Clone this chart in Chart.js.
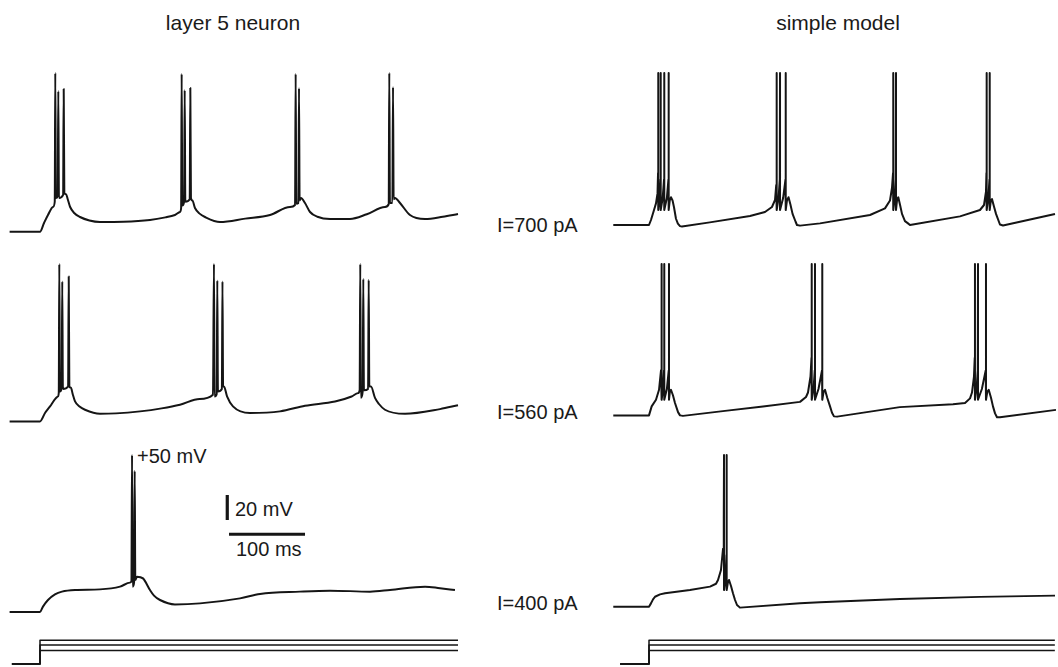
<!DOCTYPE html>
<html lang="en">
<head>
<meta charset="utf-8">
<title>layer 5 neuron / simple model</title>
<script src="https://cdn.jsdelivr.net/npm/chart.js@4"></script>
<style>
  body { margin: 0; background: #fff; font-family: "Liberation Sans", Arial, Helvetica, sans-serif; color: #1a1a1a; }
  #fig { position: relative; width: 1058px; height: 667px; overflow: hidden; }
  #fig canvas { position: absolute; }
  .lbl { position: absolute; font-size: 20px; line-height: 1; white-space: nowrap; transform: translateY(-50%); }
  .title { font-size: 21px; transform: translate(-50%, -50%); }
</style>
</head>
<body>
<div id="fig">
  <div class="lbl title" style="left:233px; top:22px;">layer 5 neuron</div>
  <div class="lbl title" style="left:838px; top:22px;">simple model</div>
  <div class="lbl" style="left:497px; top:225px;">I=700 pA</div>
  <div class="lbl" style="left:497px; top:412px;">I=560 pA</div>
  <div class="lbl" style="left:497px; top:603px;">I=400 pA</div>
  <div class="lbl" style="left:137px; top:456px;">+50 mV</div>
  <div class="lbl" style="left:235px; top:509px;">20 mV</div>
  <div class="lbl" style="left:236px; top:549px;">100 ms</div>

  <canvas id="n700"></canvas>
  <canvas id="n560"></canvas>
  <canvas id="n400"></canvas>
  <canvas id="m700"></canvas>
  <canvas id="m560"></canvas>
  <canvas id="m400"></canvas>
  <canvas id="stepL"></canvas>
  <canvas id="stepR"></canvas>
</div>

<script>
// recorded traces, [time ms, membrane potential mV], step onset at t = 0
const neuron700 = [
  [-40,-77],[0,-77],[5.3,-70],[10.5,-63.6],[17.1,-57.2],[19.4,-53],
  [20.1,50],[20.9,-50],[23.3,-48.5],[24.1,35.6],[24.9,-50],[30.4,-47.5],[31.2,37.2],[32.0,-46],
  [34.2,-47],[36.5,-51],[39.5,-57],[45,-62],[52.6,-65.2],[65,-68],[78.9,-69.2],[110,-69],
  [144.7,-67.6],[165,-65.5],[177.6,-63.6],[184.2,-61.2],[185.7,-58],
  [186.4,49.2],[187.2,-56],[189.6,-53],[190.4,36.4],[191.2,-53],[197,-51],[197.8,38],[198.6,-50],
  [200.5,-52],[203.9,-58],[210,-62.5],[217.1,-65.2],[236.8,-69.2],[270,-66.5],[302.6,-63.6],
  [328.9,-57.2],[335.6,-55.6],
  [336.4,49.2],[337.2,-54.5],[340,-54],[340.8,38],[341.6,-52],
  [343.4,-50],[348.7,-54],[355.3,-61.2],[365,-65],[381.6,-66.8],[407.9,-66.8],[430,-63],
  [453.9,-57.2],[458.8,-55],
  [459.6,50],[460.4,-54],[463.7,-54],[464.5,38.8],[465.3,-51],
  [467.1,-50],[473.7,-54],[486.8,-63.6],[506.6,-66.8],[530,-65],[550,-62.8]
];
const neuron560 = [
  [-40,-75.9],[0,-75.9],[6.6,-69.2],[13.2,-63.9],[21.1,-57.2],[23.7,-55.9],[24.7,-53],
  [25.4,50],[26.2,-52],[28.5,-49],[29.3,36.1],[30.1,-50],[37,-48],[37.8,40.1],[38.6,-48],
  [40.8,-49],[43,-54],[46.1,-59.9],[52,-64],[59.2,-66.6],[78.9,-69.8],[100,-69.5],
  [131.6,-67.9],[160,-65.5],[184.2,-62.6],[210,-58],[227.6,-54.6],
  [228.9,50],[229.7,-56],[232.5,-54],[233.3,36.9],[234.1,-52],[239.3,-50],[240.1,36.1],[240.9,-48],
  [242.1,-48],[246.1,-55.9],[253.9,-63.9],[276.3,-69.2],[315.8,-67.9],[348.7,-63.4],
  [388.2,-60],[410,-56],[418.4,-53.3],[420.6,-51],
  [421.4,50],[422.2,-57],[424.6,-52],[425.4,38.2],[426.2,-51],[431.7,-50],[432.5,37.4],[433.3,-48],
  [435.5,-48],[440.8,-57.1],[446,-62],[453.9,-66.6],[480.3,-69.8],[526.3,-66.1],[550,-63]
];
const neuron400 = [
  [-40,-75.6],[0,-75.6],[3.9,-71.3],[10.5,-66],[19.7,-61.5],[28.9,-59.3],[46.1,-58],
  [78.9,-57.5],[105.3,-55.3],[118.4,-52.1],[120.3,-51],
  [121.1,50],[121.9,-55.3],[123.8,-52],[124.6,37.4],[125.4,-50],
  [127.6,-47.3],[135.5,-48.7],[144.7,-58],[150,-62.5],[157.9,-66],[177.6,-69.5],[210.5,-68.7],
  [263.2,-64.7],[289.5,-61.2],[342.1,-59.3],[381.6,-58.5],[434.2,-59.3],[460.5,-58],
  [506.6,-55.3],[526.3,-56.6],[546,-58]
];

// simple model traces
const model700 = [
  [-47,-71.6],[0,-71.6],[2.6,-67.6],[6.6,-59.6],[9.2,-54.3],[11.2,-46.3],[11.9,-30],
  [12.2,50],[12.2,-59.6],[14,-50],[15.1,-35],[15.4,50],[15.4,-59.6],[18,-50],[19.8,-35],
  [20.1,50],[20.1,-59.6],[23.5,-50],[25.6,-35],[25.9,50],[25.9,-59.6],
  [27.3,-52],[28.9,-49.4],[31,-52],[32.9,-57.4],[35.5,-66.6],[38,-70.5],[40.8,-72.5],[43.4,-72.8],
  [80,-69.5],[132.9,-64.4],[152.6,-61.2],[161.8,-57.2],[165.8,-51.6],[167.4,-39.6],
  [168,50],[168,-59.6],[170.5,-50],[172.1,-35],[172.4,50],[172.4,-59.6],[176.5,-50],[179.6,-35],
  [179.9,50],[179.9,-59.6],
  [181.5,-52],[183.6,-49.4],[186,-55],[188.9,-62.7],[192.9,-69],[194.7,-71.6],[198.7,-72.1],
  [225,-70.3],[290.8,-63.6],[310.5,-58.3],[317.1,-52],[319.7,-42],[321.1,-30],
  [321.4,50],[321.4,-59.6],[323.5,-50],[324.7,-35],[325,50],[325,-59.6],
  [326.5,-51],[328,-49.4],[330.5,-56],[332.9,-62.7],[336.8,-68.5],[340.8,-70.3],[343.4,-71.6],
  [409.2,-64.7],[435.5,-59.6],[440.8,-55.6],[443.4,-45],[444.0,-30],
  [444.3,50],[444.3,-59.6],[446.5,-50],[448,-35],[448.3,50],[448.3,-59.6],
  [449.8,-52],[451.3,-50.9],[454,-57],[456.6,-62.7],[461.8,-71.2],[465.8,-72],[534.2,-62.8]
];
const model560 = [
  [-47,-71.1],[0,-71.1],[3.5,-63.9],[9.2,-58.6],[13.2,-50.6],[15.8,-35],[16.4,-20],
  [16.7,50],[16.7,-58.6],[18.5,-50],[19.8,-35],[20.1,50],[20.1,-58.6],[23.5,-50],[26,-35],
  [26.3,50],[26.3,-58.6],
  [27.5,-52],[28.9,-50.6],[31.5,-55],[34.2,-61.2],[38.2,-68.5],[40.8,-71.1],[44.7,-71.5],
  [100,-67.5],[150,-64],[198.7,-60.3],[206.6,-56.4],[209.2,-52.8],[212.5,-40],[213.8,-25],
  [214.1,50],[214.1,-58.6],[216.5,-50],[218.1,-35],[218.4,50],[218.4,-58.6],[223,-50],[227.7,-35],
  [228,50],[228,-58.6],
  [229.8,-52],[231.6,-50.6],[234.5,-57],[238.2,-63.9],[240.8,-69],[243.4,-71.9],[247.4,-72.1],
  [330,-64.5],[400,-62.2],[415.8,-61.2],[422.4,-57.5],[425,-52.8],[427.6,-40],[428.6,-25],
  [428.9,50],[428.9,-58.6],[431,-50],[432.6,-35],[432.9,50],[432.9,-58.6],[438,-50],[443.1,-35],
  [443.4,50],[443.4,-58.6],
  [445.2,-52],[447,-50.6],[450,-57],[452.6,-63.9],[455.3,-69.5],[457.9,-72.6],[461.8,-72.6],[535.5,-66.7]
];
const model400 = [
  [-47,-71.4],[0,-71.4],[2.6,-68.7],[5.3,-65.5],[7.9,-63.4],[14.5,-61.5],[21.1,-60.6],
  [53.9,-58],[80.3,-55.3],[88.2,-53],[90.8,-50],[94.7,-42],[97.4,-25],[98.4,0],
  [98.7,50],[98.7,-58],[100.5,-50],[101.9,-30],[102.2,50],[102.2,-58],
  [103.8,-52],[105.3,-50],[108,-55],[110.5,-60.6],[113.2,-66],[115.8,-70],[119.7,-72.1],
  [198.7,-68.6],[225,-67.8],[330.3,-65.2],[435.5,-63.5],[534.2,-62.5]
];

// injected current steps (pA)
const stepCurrents = [700, 560, 400];
const stepSpanLeft = [-37, 550];
const stepSpanRight = [-38, 534];

// scale bars: 20 mV and 100 ms
const barMv = [[246.4, -2], [246.4, 18]];
const barMs = [[248.7, -13.4], [348.7, -13.4]];

const PX_PER_MS = 0.76;
const PX_PER_MV = 1.25;
const PX_PER_PA = 0.034;
const INK = '#151515';

function toXY(arr) {
  return arr.map(([x, y]) => ({ x, y }));
}

function line(arr, width, smooth) {
  return {
    data: toXY(arr),
    borderColor: INK,
    borderWidth: width,
    pointRadius: 0,
    fill: false,
    tension: smooth ? 0.4 : 0,
    cubicInterpolationMode: smooth ? 'monotone' : 'default',
    clip: false,
    borderJoinStyle: 'round'
  };
}

// box: canvas position/size in px, x0 = px of t=0, yRef = px of refVal, perUnit = px per y unit
function plot(id, datasets, box) {
  const canvas = document.getElementById(id);
  canvas.width = box.width;
  canvas.height = box.height;
  canvas.style.left = box.left + 'px';
  canvas.style.top = box.top + 'px';
  const xmin = (box.left - box.x0) / PX_PER_MS;
  const xmax = (box.left + box.width - box.x0) / PX_PER_MS;
  const ymax = box.refVal + (box.yRef - box.top) / box.perUnit;
  const ymin = ymax - box.height / box.perUnit;
  new Chart(canvas, {
    type: 'line',
    data: { datasets },
    options: {
      responsive: false,
      animation: false,
      events: [],
      layout: { padding: 0 },
      plugins: { legend: { display: false }, tooltip: { enabled: false } },
      scales: {
        x: { type: 'linear', min: xmin, max: xmax, display: false },
        y: { type: 'linear', min: ymin, max: ymax, display: false }
      }
    }
  });
}

const colL = { left: 4, width: 460, x0: 40 };
const colR = { left: 608, width: 450, x0: 649 };
const rowTops = [73, 264, 455]; // px of +50 mV in each row

function traceBox(col, y50) {
  return { ...col, top: y50 - 8, height: 172, yRef: y50, refVal: 50, perUnit: PX_PER_MV };
}

plot('n700', [line(neuron700, 2, true)], traceBox(colL, rowTops[0]));
plot('n560', [line(neuron560, 2, true)], traceBox(colL, rowTops[1]));
plot('n400', [line(neuron400, 2, true), line(barMv, 3.2), line(barMs, 3.2)], traceBox(colL, rowTops[2]));
plot('m700', [line(model700, 2)], traceBox(colR, rowTops[0]));
plot('m560', [line(model560, 2)], traceBox(colR, rowTops[1]));
plot('m400', [line(model400, 2)], traceBox(colR, rowTops[2]));

function stepSets(span) {
  return stepCurrents.map(I => line([[span[0], 0], [0, 0], [0, I], [span[1], I]], 1.5));
}
const stepBox = { top: 630, height: 37, yRef: 664, refVal: 0, perUnit: PX_PER_PA };
plot('stepL', stepSets(stepSpanLeft), { ...colL, ...stepBox });
plot('stepR', stepSets(stepSpanRight), { ...colR, ...stepBox });
</script>
</body>
</html>
